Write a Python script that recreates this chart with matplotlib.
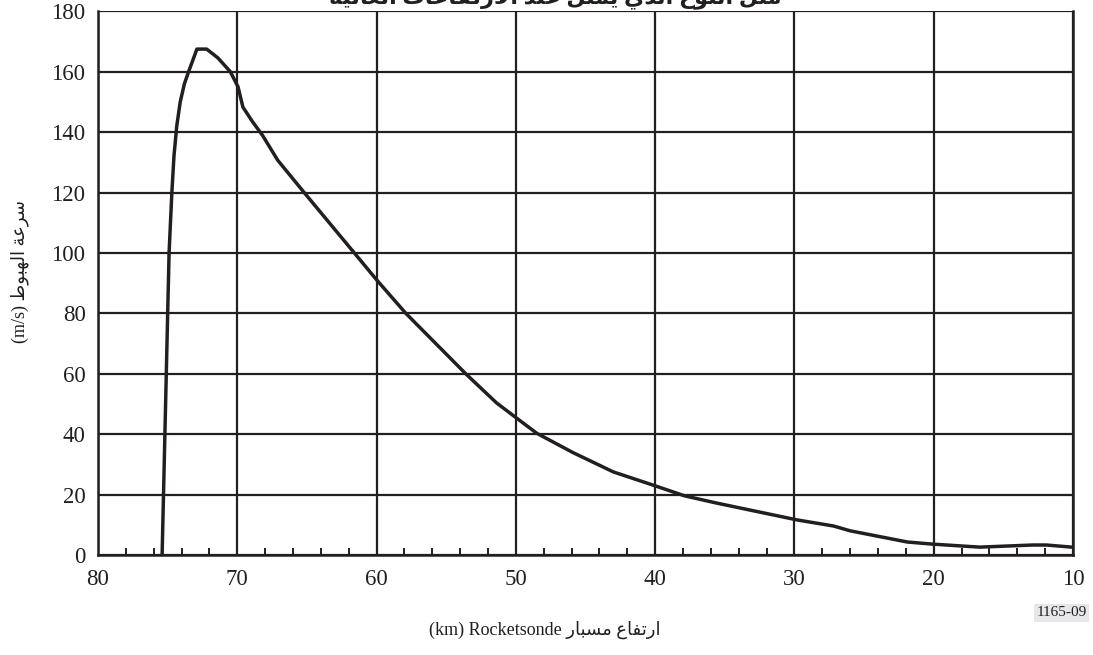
import matplotlib
matplotlib.use("Agg")
import matplotlib.pyplot as plt
from matplotlib.ticker import MultipleLocator

# altitude (km) and descent velocity (m/s)
altitude = [75.4, 75.35, 75.25, 75.1, 74.9, 74.7, 74.55, 74.35, 74.1, 73.8,
            73.5, 73.1, 72.9, 72.2, 71.4, 70.5, 69.95, 69.6, 68.9, 68.2,
            67.1, 65.2, 61.6, 60.0, 57.9, 53.6, 51.4, 50.0, 48.5, 45.9,
            43.0, 40.0, 37.9, 35.6, 29.8, 27.2, 26.0, 21.9, 20.1, 16.7,
            12.9, 11.9, 10.1]
velocity = [0, 10, 30, 60, 100, 120, 132, 142, 150, 156,
            160, 165, 167.5, 167.5, 164.6, 160, 155, 148.3, 143.4, 139,
            130.7, 120, 100, 91.1, 80, 60, 50.4, 45.5, 40.3, 33.9,
            27.5, 22.9, 19.6, 17.2, 11.6, 9.6, 8.0, 4.3, 3.6, 2.6,
            3.3, 3.3, 2.6]

x_ticks = [80, 70, 60, 50, 40, 30, 20, 10]
y_ticks = [0, 20, 40, 60, 80, 100, 120, 140, 160, 180]

title_ar = "مثل النوع الذي يمثل عند الارتفاعات العالية"
xlabel_ar = "ارتفاع مسبار"
ylabel_ar = "سرعة الهبوط"
fig_code = "1165-09"

# minimal Arabic shaping: contextual forms + visual (reversed) order
FORMS = {
    'ء': (0xFE80, 1), 'آ': (0xFE81, 2), 'أ': (0xFE83, 2), 'ؤ': (0xFE85, 2),
    'إ': (0xFE87, 2), 'ئ': (0xFE89, 4), 'ا': (0xFE8D, 2), 'ب': (0xFE8F, 4),
    'ة': (0xFE93, 2), 'ت': (0xFE95, 4), 'ث': (0xFE99, 4), 'ج': (0xFE9D, 4),
    'ح': (0xFEA1, 4), 'خ': (0xFEA5, 4), 'د': (0xFEA9, 2), 'ذ': (0xFEAB, 2),
    'ر': (0xFEAD, 2), 'ز': (0xFEAF, 2), 'س': (0xFEB1, 4), 'ش': (0xFEB5, 4),
    'ص': (0xFEB9, 4), 'ض': (0xFEBD, 4), 'ط': (0xFEC1, 4), 'ظ': (0xFEC5, 4),
    'ع': (0xFEC9, 4), 'غ': (0xFECD, 4), 'ف': (0xFED1, 4), 'ق': (0xFED5, 4),
    'ك': (0xFED9, 4), 'ل': (0xFEDD, 4), 'م': (0xFEE1, 4), 'ن': (0xFEE5, 4),
    'ه': (0xFEE9, 4), 'و': (0xFEED, 2), 'ى': (0xFEEF, 2), 'ي': (0xFEF1, 4),
}


def ar(text):
    out = []
    i = 0
    while i < len(text):
        c = text[i]
        if c not in FORMS:
            out.append(c)
            i += 1
            continue
        prev = text[i - 1] if i > 0 else None
        joins_prev = prev in FORMS and FORMS[prev][1] == 4
        if c == 'ل' and i + 1 < len(text) and text[i + 1] in 'اأإآ':
            lig = {'ا': 0xFEFB, 'أ': 0xFEF7, 'إ': 0xFEF9, 'آ': 0xFEF5}[text[i + 1]]
            out.append(chr(lig + 1 if joins_prev else lig))
            i += 2
            continue
        base, n = FORMS[c]
        nxt = text[i + 1] if i + 1 < len(text) else None
        joins_next = n == 4 and nxt in FORMS
        if n == 1:
            code = base
        elif joins_prev and joins_next:
            code = base + 3
        elif joins_prev:
            code = base + 1
        elif joins_next:
            code = base + 2
        else:
            code = base
        out.append(chr(code))
        i += 1
    return ''.join(out)[::-1]


plt.rcParams['font.family'] = ['Liberation Serif', 'DejaVu Sans']
ink = '#231f20'

fig = plt.figure(figsize=(10.93, 6.55), dpi=100)
ax = fig.add_axes([0.0897, 0.1527, 0.892, 0.83])

ax.plot(altitude, velocity, color=ink, lw=2.5, solid_capstyle='round',
        solid_joinstyle='round', zorder=3)

ax.set_xlim(80, 10)
ax.set_ylim(0, 180)
ax.set_xticks(x_ticks)
ax.set_yticks(y_ticks)
ax.xaxis.set_minor_locator(MultipleLocator(2))
ax.grid(True, which='major', color=ink, lw=1.6)
ax.tick_params(axis='both', which='major', length=0, labelsize=16.5,
               colors=ink)
ax.tick_params(axis='x', which='major', pad=10)
ax.tick_params(axis='y', which='major', pad=9)
ax.tick_params(axis='x', which='minor', direction='in', length=5,
               width=1.4, color=ink)
ax.tick_params(axis='y', which='minor', length=0)

for side in ['left', 'right', 'bottom']:
    ax.spines[side].set_color(ink)
    ax.spines[side].set_linewidth(1.8)
ax.spines['top'].set_visible(False)

fig.text(545 / 1093, 1 - 630 / 655, "(km) Rocketsonde " + ar(xlabel_ar),
         ha='center', va='center', fontsize=13, color=ink)
fig.text(20 / 1093, 1 - 272 / 655, "(m/s) " + ar(ylabel_ar),
         ha='center', va='center', rotation=90, fontsize=13, color=ink)
fig.text(555 / 1093, 1 + 2 / 655, ar(title_ar), ha='center', va='center',
         fontsize=16, fontweight='bold', color=ink)
fig.text(1087 / 1093, 1 - 613 / 655, fig_code, ha='right', va='center',
         fontsize=11, color=ink,
         bbox=dict(boxstyle='square,pad=0.15', fc='#e6e7e8', ec='none'))

fig.savefig('out.png', dpi=100)
